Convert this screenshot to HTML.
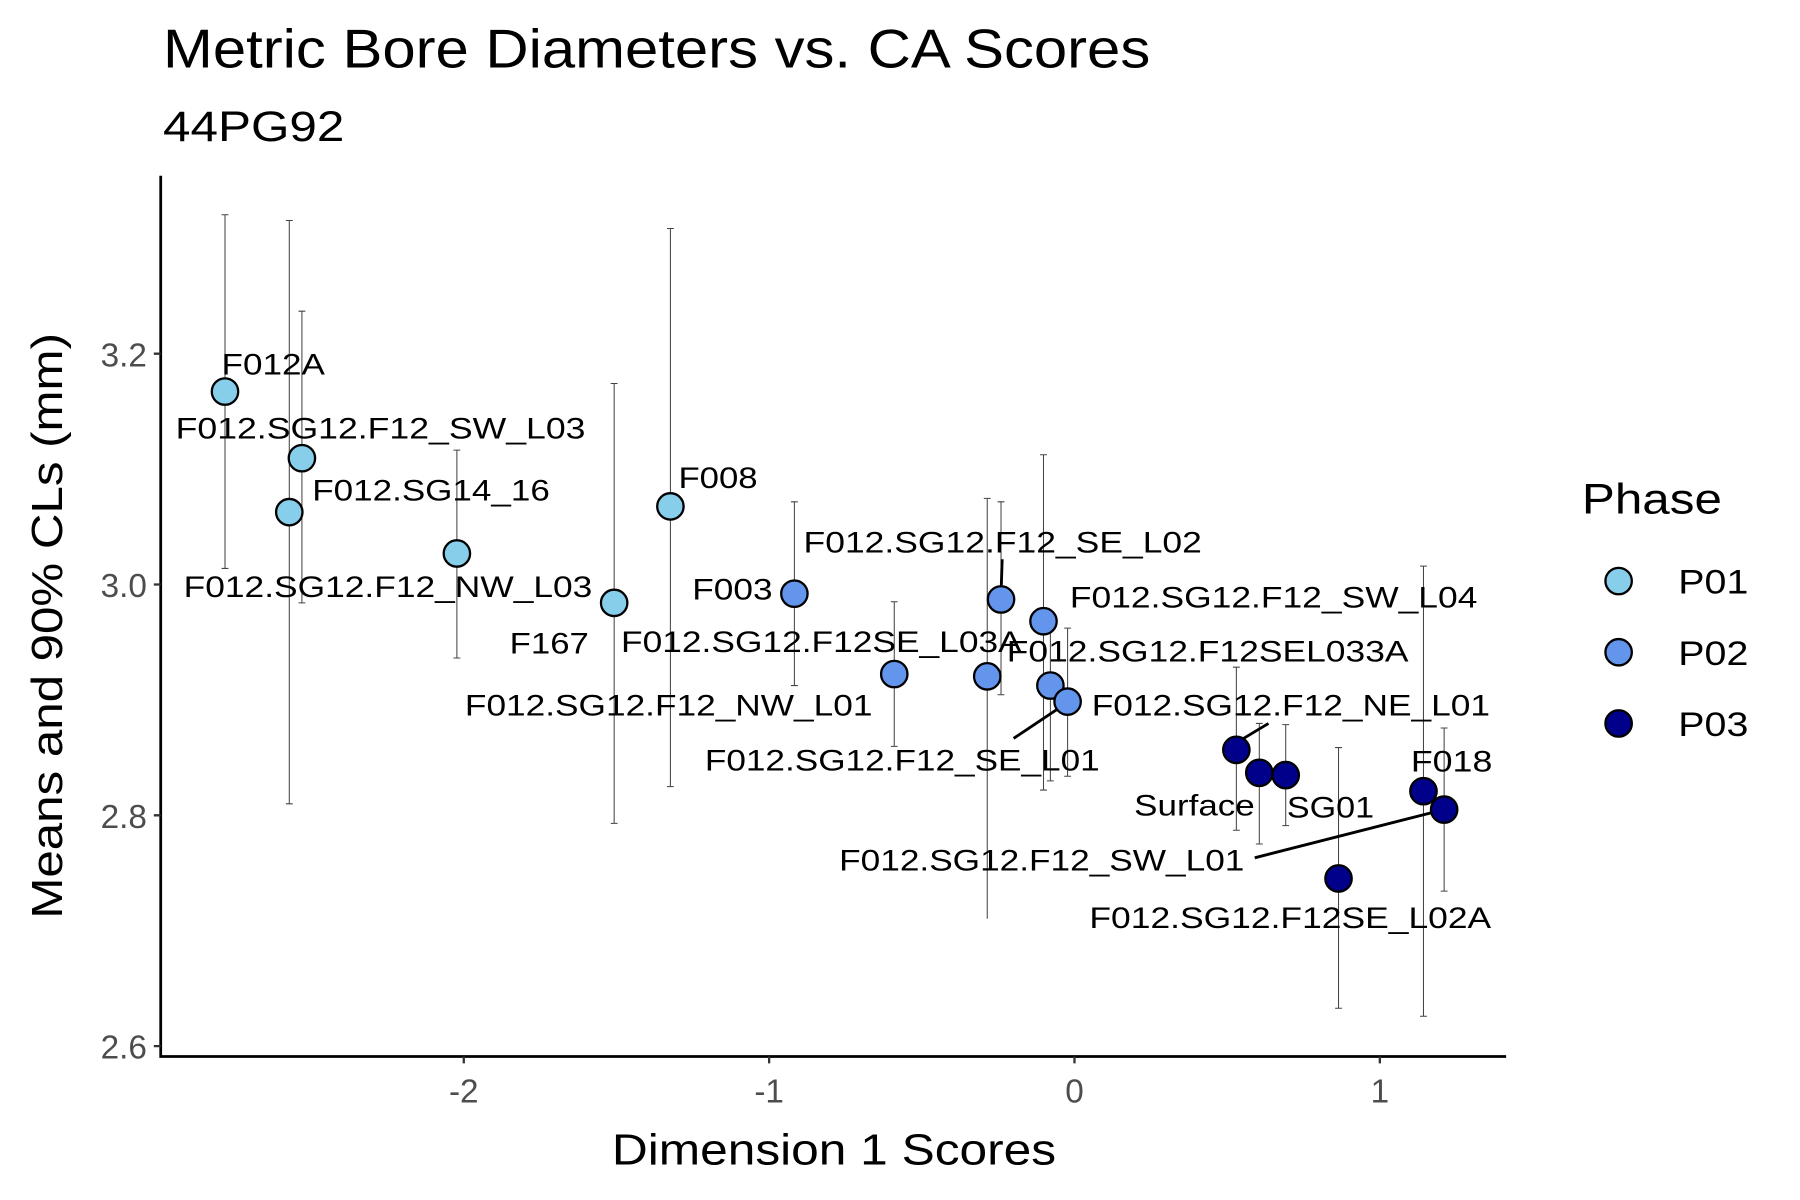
<!DOCTYPE html>
<html><head><meta charset="utf-8"><style>html,body{margin:0;padding:0;background:#fff}svg{display:block}text{font-family:"Liberation Sans",Arial,sans-serif}</style></head>
<body>
<svg width="1800" height="1200" viewBox="0 0 1568 1045" preserveAspectRatio="none" xmlns="http://www.w3.org/2000/svg">
<rect width="1568" height="1045" fill="#fff"/>
<text x="142" y="59" font-size="48" fill="#000" textLength="860" lengthAdjust="spacingAndGlyphs">Metric Bore Diameters vs. CA Scores</text>
<text x="142" y="123" font-size="37" fill="#000" textLength="158" lengthAdjust="spacingAndGlyphs">44PG92</text>
<g stroke="#444" stroke-width="0.9" fill="none">
<path d="M196 187V495M193 187h6M193 495h6"/>
<path d="M263 271V525M260 271h6M260 525h6"/>
<path d="M252 192V700M249 192h6M249 700h6"/>
<path d="M398 392V573M395 392h6M395 573h6"/>
<path d="M535 334V717M532 334h6M532 717h6"/>
<path d="M584 199V685M581 199h6M581 685h6"/>
<path d="M692 437V597M689 437h6M689 597h6"/>
<path d="M779 524V650M776 524h6M776 650h6"/>
<path d="M860 434V800M857 434h6"/>
<path d="M872 437V605M869 437h6M869 605h6"/>
<path d="M909 396V688M906 396h6M906 688h6"/>
<path d="M915 547V680M912 547h6M912 680h6"/>
<path d="M930 547V676M927 547h6M927 676h6"/>
<path d="M1077 581V723M1074 581h6M1074 723h6"/>
<path d="M1097 630V735M1094 630h6M1094 735h6"/>
<path d="M1120 631V719M1117 631h6M1117 719h6"/>
<path d="M1166 651V878M1163 651h6M1163 878h6"/>
<path d="M1240 493V885M1237 493h6M1237 885h6"/>
<path d="M1258 634V776M1255 634h6M1255 776h6"/>
</g>
<g stroke="#000" stroke-width="2.4" fill="none"><path d="M140 153V920H1312"/></g>
<g stroke="#333" stroke-width="2" fill="none">
<path d="M134 308h6M134 509h6M134 710h6M134 911h6"/>
<path d="M404 920v6M670 920v6M936 920v6M1202 920v6"/>
</g>
<g font-size="29" fill="#4d4d4d" text-anchor="end">
<text x="128" y="319">3.2</text><text x="128" y="520">3.0</text><text x="128" y="721">2.8</text><text x="128" y="922">2.6</text>
</g>
<g font-size="29" fill="#4d4d4d" text-anchor="middle">
<text x="404" y="960">-2</text><text x="670" y="960">-1</text><text x="936" y="960">0</text><text x="1202" y="960">1</text>
</g>
<text x="533" y="1014" font-size="38" textLength="387" lengthAdjust="spacingAndGlyphs">Dimension 1 Scores</text>
<text transform="translate(54,800) rotate(-90)" font-size="38" textLength="510" lengthAdjust="spacingAndGlyphs">Means and 90% CLs (mm)</text>
<g stroke="#000" stroke-width="2.5">
<path d="M873 487L872 518"/><path d="M883 643L925 615"/><path d="M1080 645L1105 630"/><path d="M1093 747L1250 707"/>
</g>
<g stroke="#000" stroke-width="2">
<g fill="#87CEEB">
<circle cx="196" cy="341" r="11.5"/><circle cx="263" cy="399" r="11.5"/><circle cx="252" cy="446" r="11.5"/><circle cx="398" cy="482" r="11.5"/><circle cx="535" cy="525" r="11.5"/><circle cx="584" cy="441" r="11.5"/>
</g>
<g fill="#6495ED">
<circle cx="692" cy="517" r="11.5"/><circle cx="779" cy="587" r="11.5"/><circle cx="860" cy="589" r="11.5"/><circle cx="872" cy="522" r="11.5"/><circle cx="909" cy="541" r="11.5"/><circle cx="915" cy="597" r="11.5"/><circle cx="930" cy="611" r="11.5"/>
</g>
<g fill="#00008B">
<circle cx="1077" cy="653" r="11.5"/><circle cx="1097" cy="673" r="11.5"/><circle cx="1120" cy="675" r="11.5"/><circle cx="1166" cy="765" r="11.5"/><circle cx="1240" cy="689" r="11.5"/><circle cx="1258" cy="705" r="11.5"/>
</g>
</g>
<g font-size="26" fill="#000">
<text x="193" y="326" textLength="90" lengthAdjust="spacingAndGlyphs">F012A</text>
<text x="153" y="382" textLength="357" lengthAdjust="spacingAndGlyphs">F012.SG12.F12_SW_L03</text>
<text x="272" y="436" textLength="207" lengthAdjust="spacingAndGlyphs">F012.SG14_16</text>
<text x="160" y="520" textLength="356" lengthAdjust="spacingAndGlyphs">F012.SG12.F12_NW_L03</text>
<text x="444" y="569" textLength="69" lengthAdjust="spacingAndGlyphs">F167</text>
<text x="591" y="425" textLength="69" lengthAdjust="spacingAndGlyphs">F008</text>
<text x="603" y="522" textLength="70" lengthAdjust="spacingAndGlyphs">F003</text>
<text x="700" y="481" textLength="347" lengthAdjust="spacingAndGlyphs">F012.SG12.F12_SE_L02</text>
<text x="541" y="568" textLength="349" lengthAdjust="spacingAndGlyphs">F012.SG12.F12SE_L03A</text>
<text x="405" y="623" textLength="355" lengthAdjust="spacingAndGlyphs">F012.SG12.F12_NW_L01</text>
<text x="932" y="529" textLength="355" lengthAdjust="spacingAndGlyphs">F012.SG12.F12_SW_L04</text>
<text x="877" y="576" textLength="350" lengthAdjust="spacingAndGlyphs">F012.SG12.F12SEL033A</text>
<text x="951" y="623" textLength="347" lengthAdjust="spacingAndGlyphs">F012.SG12.F12_NE_L01</text>
<text x="614" y="671" textLength="344" lengthAdjust="spacingAndGlyphs">F012.SG12.F12_SE_L01</text>
<text x="988" y="710" textLength="105" lengthAdjust="spacingAndGlyphs">Surface</text>
<text x="1121" y="712" textLength="76" lengthAdjust="spacingAndGlyphs">SG01</text>
<text x="1229" y="672" textLength="71" lengthAdjust="spacingAndGlyphs">F018</text>
<text x="731" y="758" textLength="353" lengthAdjust="spacingAndGlyphs">F012.SG12.F12_SW_L01</text>
<text x="949" y="808" textLength="350" lengthAdjust="spacingAndGlyphs">F012.SG12.F12SE_L02A</text>
</g>
<text x="1378" y="447" font-size="37" textLength="122" lengthAdjust="spacingAndGlyphs">Phase</text>
<g stroke="#000" stroke-width="2">
<circle cx="1410" cy="506" r="11.5" fill="#87CEEB"/><circle cx="1410" cy="568" r="11.5" fill="#6495ED"/><circle cx="1410" cy="630" r="11.5" fill="#00008B"/>
</g>
<g font-size="30">
<text x="1462" y="517" textLength="61" lengthAdjust="spacingAndGlyphs">P01</text><text x="1462" y="579" textLength="61" lengthAdjust="spacingAndGlyphs">P02</text><text x="1462" y="641" textLength="61" lengthAdjust="spacingAndGlyphs">P03</text>
</g>
</svg>
</body></html>
